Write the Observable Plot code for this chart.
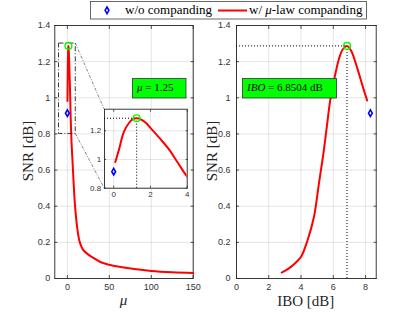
<!DOCTYPE html>
<html><head><meta charset="utf-8">
<script src="https://cdn.jsdelivr.net/npm/d3@7"></script>
<script src="https://cdn.jsdelivr.net/npm/@observablehq/plot@0.6"></script>
<style>
html,body{margin:0;padding:0;background:#fff;}
#wrap{position:relative;width:415px;height:312px;overflow:hidden;background:#fff;}
#wrap > svg{position:absolute;}
</style></head><body><div id="wrap"></div>
<script>
// ---- data ----
const muValues = [0.09, 0.28, 0.55, 0.83, 1.05, 1.25, 1.5, 1.75, 2.0, 2.5, 3.0, 3.5, 4.0, 4.5, 5, 6, 7, 8, 9, 10, 12, 14, 16, 18, 20, 25, 30, 40, 50, 60, 80, 100, 125, 150];
const snrMu    = [0.982, 1.065, 1.19, 1.254, 1.281, 1.287, 1.278, 1.255, 1.22, 1.148, 1.072, 0.975, 0.88, 0.81, 0.75, 0.66, 0.57, 0.48, 0.41, 0.355, 0.27, 0.215, 0.185, 0.165, 0.152, 0.132, 0.117, 0.09, 0.076, 0.066, 0.052, 0.042, 0.035, 0.031];
const iboValues = [2.8, 3.0, 3.35, 3.7, 4.0, 4.4, 4.8, 5.1, 5.4, 5.6, 5.8, 6.03, 6.35, 6.6, 6.85, 7.1, 7.5, 7.8, 8.1];
const snrIbo    = [0.033, 0.042, 0.063, 0.09, 0.12, 0.21, 0.34, 0.52, 0.70, 0.84, 0.98, 1.09, 1.215, 1.27, 1.287, 1.262, 1.16, 1.07, 0.985];
const noCompMu = 0, noCompIbo = 8.3, noCompSnr = 0.915;
const optMu = 1.25, optIbo = 6.8504, optSnr = 1.287;
const zoomBox = [-10, 10, 0.8, 1.3];
const snrTicks = [0, 0.2, 0.4, 0.6, 0.8, 1, 1.2, 1.4];
const muTicks = [0, 50, 100, 150];
const iboTicks = [0, 2, 4, 6, 8];
const insetMuTicks = [0, 2, 4];
const insetSnrTicks = [0.8, 1, 1.2];
const muDomain = [-15, 150], iboDomain = [0, 8.66], snrDomain = [0, 1.4];
const insetMuDomain = [-0.5, 4], insetSnrDomain = [0.8, 1.35];
const legendLabels = ["w/o companding", "w/ ", "μ", "-law companding"];
const muText = ["μ", " = 1.25"], iboText = ["IBO", " = 6.8504 dB"];
const yTitle = "SNR [dB]", xTitleMu = "μ", xTitleIbo = "IBO [dB]";

const muData = muValues.map((m, i) => ({mu: m, snr: snrMu[i]}));
const iboData = iboValues.map((b, i) => ({ibo: b, snr: snrIbo[i]}));
const noComp = [{mu: noCompMu, ibo: noCompIbo, snr: noCompSnr}];
const opt = [{mu: optMu, ibo: optIbo, snr: optSnr}];

const AX = "#262626";
const fmt = d => String(Math.round(d * 10) / 10);
function boxAxes(xt, yt, o) {
  const common = {fontFamily: "Liberation Sans, Arial, sans-serif", fontSize: o.fs, fill: "#333", label: null};
  const blank = {tickFormat: () => "", label: null, stroke: AX, strokeWidth: 0.8};
  return [
    Plot.gridX(xt, {stroke: "#000", strokeOpacity: 0.1}),
    Plot.gridY(yt, {stroke: "#000", strokeOpacity: 0.1}),
    Plot.axisX(xt, {anchor: "bottom", tickSize: 0, tickPadding: o.px, tickFormat: fmt, ...common}),
    Plot.axisY(yt, {anchor: "left", tickSize: 0, tickPadding: o.py, tickFormat: fmt, ...common}),
    Plot.axisX(xt, {anchor: "bottom", tickSize: o.tk, dy: -o.tk, ...blank}),
    Plot.axisX(xt, {anchor: "top", tickSize: o.tk, dy: o.tk, ...blank}),
    Plot.axisY(yt, {anchor: "left", tickSize: o.tk, dx: o.tk, ...blank}),
    Plot.axisY(yt, {anchor: "right", tickSize: o.tk, dx: -o.tk, ...blank}),
    Plot.frame({stroke: AX, strokeWidth: 0.9})
  ];
}
const redLine = {stroke: "#ff0000", strokeWidth: 2, curve: "catmull-rom"};
const dotted = {stroke: "#000", strokeWidth: 1, strokeDasharray: "1,2"};
const diamond = {symbol: "diamond", r: 2, stroke: "#0000ff", strokeWidth: 1.6, fill: "none"};
const ring = {r: 3.4, stroke: "#00ff00", strokeWidth: 1.4, fill: "none"};
const style = {background: "transparent", overflow: "visible"};

const left = Plot.plot({
  width: 205, height: 312, marginLeft: 54.3, marginRight: 12.3, marginTop: 25, marginBottom: 34,
  x: {domain: muDomain}, y: {domain: snrDomain}, style,
  marks: [
    ...boxAxes(muTicks, snrTicks, {fs: 9, px: 5, py: 4.5, tk: 3}),
    Plot.line(muData, {x: "mu", y: "snr", ...redLine}),
    Plot.rect([zoomBox], {x1: d => d[0], x2: d => d[1], y1: d => d[2], y2: d => d[3], fill: "none", stroke: AX, strokeWidth: 0.9, strokeDasharray: "5,2,1,2"}),
    Plot.dot(noComp, {x: "mu", y: "snr", ...diamond}),
    Plot.dot(opt, {x: "mu", y: "snr", ...ring})
  ]
});
const right = Plot.plot({
  width: 210, height: 312, marginLeft: 31, marginRight: 39.3, marginTop: 25, marginBottom: 34,
  x: {domain: iboDomain}, y: {domain: snrDomain}, style,
  marks: [
    ...boxAxes(iboTicks, snrTicks, {fs: 9, px: 5, py: 6, tk: 3}),
    Plot.ruleY(opt, {y: "snr", x1: iboDomain[0], x2: "ibo", ...dotted}),
    Plot.ruleX(opt, {x: "ibo", y1: snrDomain[0], y2: "snr", ...dotted}),
    Plot.line(iboData, {x: "ibo", y: "snr", ...redLine}),
    Plot.dot(noComp, {x: "ibo", y: "snr", ...diamond}),
    Plot.dot(opt, {x: "ibo", y: "snr", ...ring})
  ]
});
const inset = Plot.plot({
  width: 110, height: 102, marginLeft: 20, marginRight: 7.3, marginTop: 8.7, marginBottom: 14.3,
  x: {domain: insetMuDomain}, y: {domain: insetSnrDomain}, style,
  marks: [
    Plot.frame({fill: "white"}),
    ...boxAxes(insetMuTicks, insetSnrTicks, {fs: 8, px: 3, py: 3.3, tk: 2}),
    Plot.ruleY(opt, {y: "snr", x1: insetMuDomain[0], x2: "mu", ...dotted}),
    Plot.ruleX(opt, {x: "mu", y1: insetSnrDomain[0], y2: "snr", ...dotted}),
    Plot.line(muData.filter(d => d.mu <= 5), {x: "mu", y: "snr", ...redLine, clip: true}),
    Plot.dot(noComp, {x: "mu", y: "snr", ...diamond}),
    Plot.dot(opt, {x: "mu", y: "snr", ...ring})
  ]
});

const wrap = document.getElementById("wrap");
function place(svg, x, y) { svg.style.left = x + "px"; svg.style.top = y + "px"; wrap.appendChild(svg); }
place(left, 0, 0);
place(right, 205, 0);
const insetX = 84, insetY = 100;

// connector lines from the zoom box to the inset (below inset)
const conn = d3.create("svg").attr("width", 415).attr("height", 312).style("pointer-events", "none");
const lx = left.scale("x"), ly = left.scale("y"), ix = inset.scale("x"), iy = inset.scale("y");
[[zoomBox[3], insetSnrDomain[1]], [zoomBox[2], insetSnrDomain[0]]].forEach(([a, b]) => {
  conn.append("line")
    .attr("x1", lx.apply(zoomBox[1])).attr("y1", ly.apply(a))
    .attr("x2", insetX + ix.apply(insetMuDomain[0])).attr("y2", insetY + iy.apply(b))
    .attr("stroke", "#333").attr("stroke-width", 0.6).attr("stroke-dasharray", "3,1.5,1,1.5");
});
place(conn.node(), 0, 0);
place(inset, insetX, insetY);

const ov = d3.create("svg").attr("width", 415).attr("height", 312).style("pointer-events", "none")
  .style("font-family", "'Liberation Serif', 'Times New Roman', serif");
// legend
ov.append("rect").attr("x", 90.5).attr("y", 1.5).attr("width", 276).attr("height", 17.5)
  .attr("fill", "white").attr("stroke", "#444").attr("stroke-width", 0.8);
ov.append("path").attr("d", d3.symbol(d3.symbolDiamond, Math.PI * 4)()).attr("transform", "translate(107,10.3)")
  .attr("fill", "none").attr("stroke", "#0000ff").attr("stroke-width", 1.6);
ov.append("text").attr("x", 125).attr("y", 14).attr("font-size", 13).attr("fill", "#000").text(legendLabels[0]);
ov.append("line").attr("x1", 218).attr("x2", 247).attr("y1", 10.5).attr("y2", 10.5).attr("stroke", "#ff0000").attr("stroke-width", 2);
const t2 = ov.append("text").attr("x", 249).attr("y", 14).attr("font-size", 13).attr("fill", "#000");
t2.append("tspan").text(legendLabels[1]);
t2.append("tspan").attr("font-style", "italic").text(legendLabels[2]);
t2.append("tspan").text(legendLabels[3]);
// annotation boxes
function note(x, w, parts) {
  ov.append("rect").attr("x", x).attr("y", 78.5).attr("width", w).attr("height", 19.5)
    .attr("fill", "#00ff00").attr("stroke", "#333").attr("stroke-width", 0.8);
  const t = ov.append("text").attr("x", x + 4.5).attr("y", 91).attr("font-size", 11).attr("fill", "#000");
  t.append("tspan").attr("font-style", "italic").text(parts[0]);
  t.append("tspan").text(parts[1]);
}
note(132.5, 53.5, muText);
note(242.5, 94, iboText);
// axis titles
ov.append("text").attr("transform", "translate(32.5,151) rotate(-90)").attr("text-anchor", "middle")
  .attr("font-size", 15).attr("fill", "#262626").text(yTitle);
ov.append("text").attr("transform", "translate(217,151) rotate(-90)").attr("text-anchor", "middle")
  .attr("font-size", 15).attr("fill", "#262626").text(yTitle);
ov.append("text").attr("x", 123.5).attr("y", 305).attr("text-anchor", "middle").attr("font-style", "italic")
  .attr("font-size", 15).attr("fill", "#262626").text(xTitleMu);
ov.append("text").attr("x", 305.8).attr("y", 305.5).attr("text-anchor", "middle")
  .attr("font-size", 15).attr("fill", "#262626").text(xTitleIbo);
place(ov.node(), 0, 0);
</script></body></html>
